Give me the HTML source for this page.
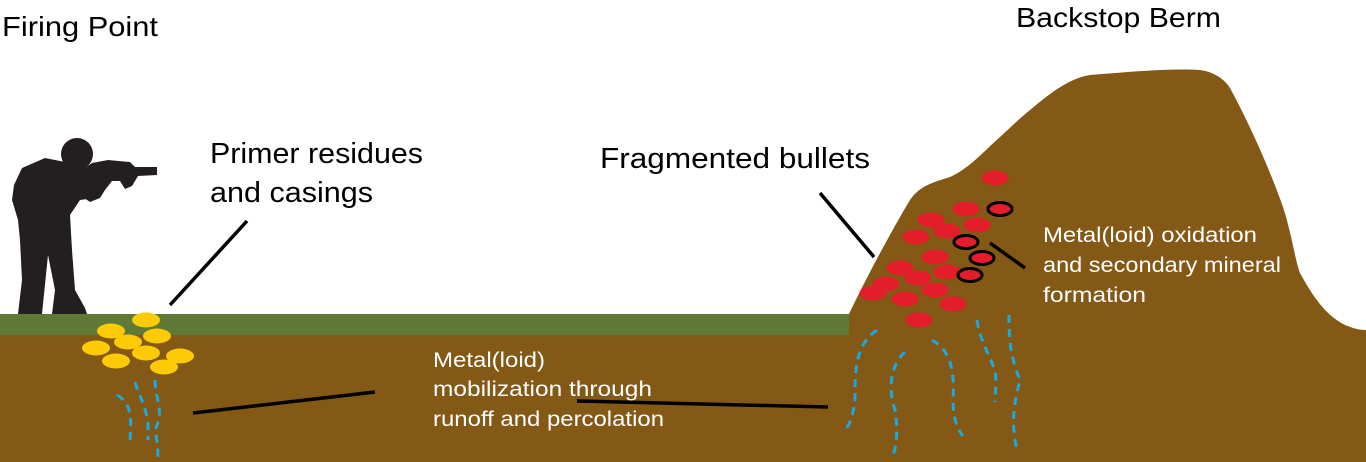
<!DOCTYPE html>
<html><head><meta charset="utf-8"><style>
html,body{margin:0;padding:0;background:#fff;}
svg{display:block;}
text{font-family:"Liberation Sans",sans-serif;}
</style></head><body>
<svg width="1366" height="462" viewBox="0 0 1366 462" xmlns="http://www.w3.org/2000/svg">
<rect x="0" y="335" width="1366" height="127" fill="#845815"/>
<rect x="0" y="314" width="850" height="21" fill="#5f7a37"/>
<path d="M849,314 C870,270 895,225 910,200 C920,185 935,182 950,177 C970,168 985,150 1000,137 C1012,126 1020,118 1030,110 C1050,93 1070,78 1090,75 C1130,72 1170,68 1200,70 C1215,72 1225,80 1230,88 C1250,125 1270,170 1283,207 C1292,235 1295,260 1300,273 C1312,295 1325,315 1345,325 C1355,329 1360,330 1366,330 L1366,462 L849,462 Z" fill="#845815"/>
<!-- soldier -->
<g fill="#231f20">
<circle cx="77" cy="154" r="16"/>
<polygon points="14,185 22,168 45,158 65,162 95,170 100,185 95,198 80,200 70,215 72,250 75,290 85,308 87,314 52,314 55,290 48,255 42,314 18,314 22,280 20,240 18,220 12,200"/>
<polygon points="92,163 108,160 130,162 135,167 157,167 157,175 138,176 132,186 125,189 120,181 112,181 105,190 100,198 90,202 80,195 75,175"/>
</g>
<!-- yellow -->
<g fill="#fdcb05">
<ellipse cx="146" cy="320" rx="14" ry="7.5"/>
<ellipse cx="111" cy="331" rx="14" ry="7.5"/>
<ellipse cx="157" cy="336" rx="14" ry="7.5"/>
<ellipse cx="128" cy="342" rx="14" ry="7.5"/>
<ellipse cx="96" cy="348" rx="14" ry="7.5"/>
<ellipse cx="146" cy="353" rx="14" ry="7.5"/>
<ellipse cx="180" cy="356" rx="14" ry="7.5"/>
<ellipse cx="116" cy="361" rx="14" ry="7.5"/>
<ellipse cx="164" cy="367" rx="14" ry="7.5"/>
</g>
<!-- red -->
<g fill="#e31e2a">
<ellipse cx="995" cy="178" rx="13.5" ry="7.5"/>
<ellipse cx="966" cy="209" rx="13.5" ry="7.5"/>
<ellipse cx="931" cy="220" rx="13.5" ry="7.5"/>
<ellipse cx="977" cy="225" rx="13.5" ry="7.5"/>
<ellipse cx="947" cy="231" rx="13.5" ry="7.5"/>
<ellipse cx="916" cy="237" rx="13.5" ry="7.5"/>
<ellipse cx="935" cy="257" rx="13.5" ry="7.5"/>
<ellipse cx="900" cy="268" rx="13.5" ry="7.5"/>
<ellipse cx="947" cy="272" rx="13.5" ry="7.5"/>
<ellipse cx="918" cy="278" rx="13.5" ry="7.5"/>
<ellipse cx="886" cy="284" rx="13.5" ry="7.5"/>
<ellipse cx="873" cy="293" rx="13.5" ry="7.5"/>
<ellipse cx="935" cy="290" rx="13.5" ry="7.5"/>
<ellipse cx="905" cy="299" rx="13.5" ry="7.5"/>
<ellipse cx="953" cy="304" rx="13.5" ry="7.5"/>
<ellipse cx="919" cy="320" rx="13.5" ry="7.5"/>
</g>
<g fill="#e31e2a" stroke="#000" stroke-width="3">
<ellipse cx="1000" cy="209" rx="12" ry="6.5"/>
<ellipse cx="966" cy="242" rx="12" ry="6.5"/>
<ellipse cx="982" cy="258" rx="12" ry="6.5"/>
<ellipse cx="970" cy="275" rx="12" ry="6.5"/>
</g>
<!-- blue dashes -->
<g fill="none" stroke="#1aa9e0" stroke-width="3" stroke-dasharray="8 6">
<path d="M117,395 C135,405 130,425 130,445"/>
<path d="M135,382 C140,400 150,410 148,440"/>
<path d="M155,380 C155,400 165,410 155,430 C158,445 158,455 158,462"/>
<path d="M877,330 C855,345 855,370 855,400 C853,415 850,425 846,428"/>
<path d="M905,352 C890,365 888,390 895,410 C898,430 897,445 893,455"/>
<path d="M932,340 C950,350 955,370 953,400 C953,420 958,430 963,436"/>
<path d="M977,320 C980,345 995,360 996,380 L995,402"/>
<path d="M1009,315 C1009,340 1010,355 1020,380 C1015,400 1010,420 1017,450"/>
</g>
<!-- leader lines -->
<g stroke="#000" stroke-width="3.5" fill="none">
<line x1="170" y1="305" x2="247" y2="221"/>
<line x1="820" y1="193" x2="874" y2="257"/>
<line x1="990" y1="243" x2="1025" y2="268"/>
<line x1="193" y1="413" x2="375" y2="392"/>
<line x1="577" y1="401" x2="828" y2="407"/>
</g>
<!-- text -->
<g fill="#000">
<text x="2" y="36" font-size="28" textLength="156" lengthAdjust="spacingAndGlyphs">Firing Point</text>
<text x="1016" y="27" font-size="28" textLength="205" lengthAdjust="spacingAndGlyphs">Backstop Berm</text>
<text x="210" y="163" font-size="29" textLength="213" lengthAdjust="spacingAndGlyphs">Primer residues</text>
<text x="210" y="202" font-size="29" textLength="163" lengthAdjust="spacingAndGlyphs">and casings</text>
<text x="600" y="168" font-size="29" textLength="270" lengthAdjust="spacingAndGlyphs">Fragmented bullets</text>
</g>
<g font-size="21" fill="#fff">
<text x="1043" y="242" textLength="214" lengthAdjust="spacingAndGlyphs">Metal(loid) oxidation</text>
<text x="1043" y="272" textLength="238" lengthAdjust="spacingAndGlyphs">and secondary mineral</text>
<text x="1043" y="302" textLength="103" lengthAdjust="spacingAndGlyphs">formation</text>
<text x="433" y="367" textLength="112" lengthAdjust="spacingAndGlyphs">Metal(loid)</text>
<text x="433" y="396" textLength="219" lengthAdjust="spacingAndGlyphs">mobilization through</text>
<text x="433" y="426" textLength="231" lengthAdjust="spacingAndGlyphs">runoff and percolation</text>
</g>
</svg>
</body></html>
